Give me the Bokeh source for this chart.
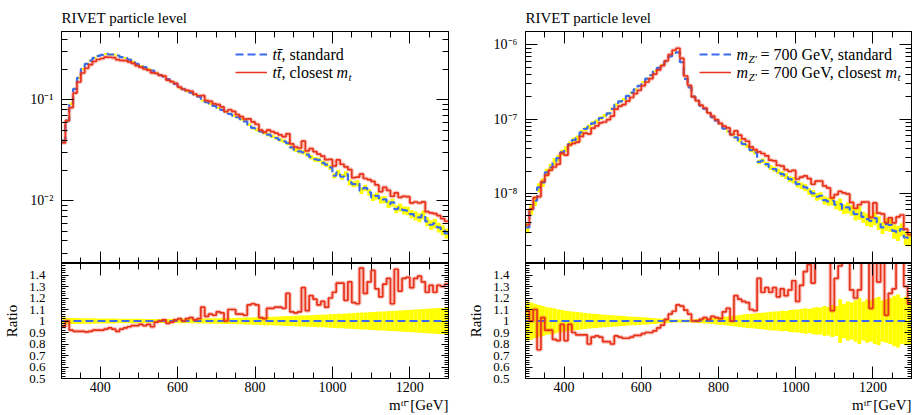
import numpy as np
from bokeh.plotting import figure
from bokeh.layouts import column, row
from bokeh.models import (Range1d, LinearAxis, LogAxis, FixedTicker, CustomJSTickFormatter,
                          Label, Legend, LegendItem, Title)
from bokeh.embed import file_html
from bokeh.resources import INLINE

# ---------------- data ----------------
bin_edges = np.arange(300, 1301, 10)   # m_tt bins [GeV]

# left panel: t tbar, standard prediction (per bin)
tt_standard = [
    0.0395, 0.0623, 0.0913, 0.1286, 0.1655, 0.2032, 0.2278, 0.2459, 0.2613, 0.2736,
    0.2799, 0.2864, 0.2821, 0.2821, 0.2757, 0.2653, 0.2613, 0.2515, 0.2403, 0.2278,
    0.2176, 0.2111, 0.2032, 0.1956, 0.1854, 0.1759, 0.1706, 0.1605, 0.1533, 0.1442,
    0.1316, 0.1276, 0.1219, 0.1183, 0.1130, 0.1079, 0.0985, 0.0948, 0.0913, 0.0872,
    0.0833, 0.0796, 0.0766, 0.0726, 0.0699, 0.0673, 0.0643, 0.0614, 0.0569, 0.0527,
    0.0503, 0.0488, 0.0470, 0.0453, 0.0436, 0.0419, 0.0401, 0.0389, 0.0372, 0.0339,
    0.0319, 0.0309, 0.0302, 0.0287, 0.0270, 0.0258, 0.0254, 0.0237, 0.0228, 0.0214,
    0.0177, 0.0191, 0.0173, 0.0184, 0.0152, 0.0146, 0.0149, 0.0126, 0.0134, 0.0121,
    0.0108, 0.0112, 0.0102, 0.0103, 0.00927, 0.00963, 0.00827, 0.00859, 0.00808, 0.00796,
    0.00737, 0.00709, 0.00683, 0.00726, 0.00623, 0.00578, 0.00596, 0.00544, 0.00512, 0.00474]
# ratio closest-m_t / standard
tt_ratio = [
    0.95, 1.00, 0.92, 0.91, 0.91, 0.91, 0.905, 0.91, 0.92, 0.92,
    0.92, 0.93, 0.94, 0.93, 0.91, 0.93, 0.94, 0.95, 0.96, 0.96,
    0.97, 0.96, 0.97, 0.95, 0.99, 1.00, 1.01, 0.98, 0.99, 1.01,
    1.02, 1.00, 1.02, 1.03, 1.01, 1.02, 1.12, 1.04, 1.06, 1.05,
    1.08, 1.07, 1.00, 1.10, 1.10, 1.06, 1.06, 1.05, 1.14, 1.15,
    1.14, 1.03, 1.02, 1.11, 1.11, 1.12, 1.12, 1.11, 1.24, 1.08,
    1.07, 1.08, 1.29, 1.09, 1.22, 1.19, 1.14, 1.17, 1.12, 1.20,
    1.25, 1.33, 1.33, 1.18, 1.34, 1.16, 1.15, 1.46, 1.24, 1.34,
    1.44, 1.28, 1.21, 1.32, 1.37, 1.15, 1.45, 1.26, 1.37, 1.38,
    1.29, 1.37, 1.39, 1.34, 1.25, 1.31, 1.25, 1.31, 1.30, 1.32]
# relative uncertainty of the standard prediction
tt_relerr = [
    0.030, 0.028, 0.027, 0.026, 0.025, 0.024, 0.024, 0.023, 0.023, 0.022,
    0.022, 0.021, 0.021, 0.021, 0.020, 0.020, 0.020, 0.019, 0.019, 0.019,
    0.019, 0.018, 0.018, 0.018, 0.018, 0.018, 0.018, 0.018, 0.019, 0.018,
    0.019, 0.019, 0.020, 0.020, 0.020, 0.021, 0.022, 0.022, 0.023, 0.023,
    0.024, 0.025, 0.025, 0.026, 0.027, 0.028, 0.029, 0.030, 0.031, 0.032,
    0.033, 0.034, 0.036, 0.036, 0.037, 0.039, 0.040, 0.041, 0.043, 0.044,
    0.045, 0.047, 0.048, 0.049, 0.051, 0.053, 0.054, 0.055, 0.057, 0.059,
    0.060, 0.062, 0.064, 0.066, 0.067, 0.069, 0.071, 0.073, 0.074, 0.076,
    0.078, 0.080, 0.082, 0.083, 0.086, 0.088, 0.090, 0.091, 0.094, 0.096,
    0.098, 0.100, 0.102, 0.104, 0.106, 0.108, 0.110, 0.112, 0.114, 0.116]

# right panel: Z' (700 GeV), standard prediction
zp_standard = [
    3.48e-9, 6.15e-9, 7.96e-9, 1.203e-8, 1.405e-8, 1.917e-8, 2.240e-8, 2.699e-8, 2.993e-8, 3.569e-8,
    3.958e-8, 4.624e-8, 5.236e-8, 5.572e-8, 6.642e-8, 7.366e-8, 7.920e-8, 8.785e-8, 9.349e-8, 1.036e-7,
    1.115e-7, 1.198e-7, 1.371e-7, 1.568e-7, 1.737e-7, 1.847e-7, 2.050e-7, 2.273e-7, 2.521e-7, 2.797e-7,
    3.167e-7, 3.512e-7, 3.896e-7, 4.412e-7, 4.894e-7, 5.427e-7, 6.020e-7, 7.000e-7, 7.800e-7, 7.900e-7,
    5.836e-7, 3.476e-7, 2.683e-7, 2.007e-7, 1.773e-7, 1.520e-7, 1.371e-7, 1.198e-7, 1.058e-7, 9.545e-8,
    8.605e-8, 7.443e-8, 6.852e-8, 6.181e-8, 5.689e-8, 5.129e-8, 4.624e-8, 4.345e-8, 3.837e-8, 3.569e-8,
    2.650e-8, 2.755e-8, 2.484e-8, 2.240e-8, 2.127e-8, 1.978e-8, 1.821e-8, 1.711e-8, 1.559e-8, 1.511e-8,
    1.335e-8, 1.268e-8, 1.203e-8, 1.063e-8, 9.99e-9, 9.015e-9, 9.300e-9, 8.129e-9, 7.799e-9, 7.962e-9,
    7.032e-9, 7.179e-9, 6.145e-9, 6.472e-9, 5.957e-9, 5.261e-9, 5.540e-9, 4.842e-9, 4.504e-9, 4.277e-9,
    4.647e-9, 4.061e-9, 3.477e-9, 3.856e-9, 3.777e-9, 3.135e-9, 2.977e-9, 3.301e-9, 2.548e-9, 2.419e-9]
zp_ratio = [
    1.09, 1.00, 1.10, 0.75, 1.03, 0.92, 0.92, 0.84, 0.83, 0.97,
    0.83, 0.97, 0.90, 0.88, 0.88, 0.88, 0.80, 0.86, 0.87, 0.86,
    0.82, 0.82, 0.80, 0.87, 0.86, 0.85, 0.85, 0.86, 0.875, 0.875,
    0.89, 0.90, 0.90, 0.915, 0.94, 0.965, 1.015, 1.06, 1.085, 1.14,
    1.13, 1.095, 1.06, 1.00, 1.00, 1.015, 1.03, 1.015, 1.04, 1.03,
    1.02, 1.08, 1.11, 1.00, 1.22, 1.19, 1.17, 1.16, 1.10, 1.09,
    1.37, 1.25, 1.29, 1.25, 1.29, 1.21, 1.28, 1.22, 1.27, 1.35,
    1.17, 1.31, 1.43, 1.49, 1.33, 1.62, 1.58, 1.55, 1.52, 1.09,
    1.37, 1.48, 1.65, 1.52, 1.27, 1.20, 1.27, 1.58, 1.70, 1.11,
    1.60, 1.34, 1.52, 1.05, 1.24, 1.28, 1.62, 1.55, 1.30, 1.15]
zp_relerr = [
    0.170, 0.160, 0.150, 0.140, 0.130, 0.120, 0.115, 0.110, 0.100, 0.095,
    0.090, 0.085, 0.080, 0.078, 0.074, 0.070, 0.066, 0.063, 0.060, 0.057,
    0.055, 0.052, 0.050, 0.047, 0.045, 0.043, 0.040, 0.038, 0.036, 0.034,
    0.032, 0.030, 0.027, 0.025, 0.022, 0.020, 0.018, 0.015, 0.013, 0.012,
    0.012, 0.013, 0.014, 0.015, 0.017, 0.019, 0.021, 0.023, 0.026, 0.030,
    0.034, 0.037, 0.040, 0.044, 0.048, 0.052, 0.056, 0.060, 0.064, 0.066,
    0.070, 0.072, 0.076, 0.080, 0.082, 0.085, 0.090, 0.088, 0.095, 0.098,
    0.100, 0.105, 0.110, 0.104, 0.115, 0.120, 0.118, 0.130, 0.125, 0.140,
    0.130, 0.190, 0.150, 0.170, 0.160, 0.180, 0.200, 0.170, 0.190, 0.180,
    0.200, 0.210, 0.180, 0.190, 0.200, 0.220, 0.230, 0.200, 0.210, 0.200]

x_major = [400, 600, 800, 1000, 1200]
x_minor = [v for v in range(350, 1300, 50) if v not in x_major]
tt_y_major = [1e-2, 1e-1]
tt_y_labels = {1e-2: "10\u207b\u00b2", 1e-1: "10\u207b\u00b9"}
zp_y_major = [1e-8, 1e-7, 1e-6]
zp_y_labels = {1e-8: "10\u207b\u2078", 1e-7: "10\u207b\u2077", 1e-6: "10\u207b\u2076"}
r_major = [0.5, 0.6, 0.7, 0.8, 0.9, 1.0, 1.1, 1.2, 1.3, 1.4]
r_labels = {0.5: "0.5", 0.6: "0.6", 0.7: "0.7", 0.8: "0.8", 0.9: "0.9", 1.0: "1",
            1.1: "1.1", 1.2: "1.2", 1.3: "1.3", 1.4: "1.4"}
r_minor = [round(0.5 + 0.02 * i, 2) for i in range(51)]
x_title = "m\u1d57\u1d57\u0304 [GeV]"
panel_title = "RIVET particle level"

FONT = "Liberation Serif"
BLUE = "#3a6cf0"
RED = "#e8341c"
YELLOW = "#ffff00"


def log_minors(exps, lo, hi):
    return [m * 10.0 ** e for e in exps for m in range(2, 10) if lo <= m * 10.0 ** e <= hi]


def make_axis(cls, majors, minors, major_len, minor_len, overrides=None, size="14px", standoff=0):
    ax = cls(ticker=FixedTicker(ticks=majors, minor_ticks=minors))
    ax.major_tick_in = major_len
    ax.major_tick_out = 0
    ax.minor_tick_in = minor_len
    ax.minor_tick_out = 0
    ax.axis_line_color = "black"
    ax.major_tick_line_color = "black"
    ax.minor_tick_line_color = "black"
    if overrides is None:
        ax.formatter = CustomJSTickFormatter(code="return ''")
        ax.major_label_text_font_size = "0px"
        ax.major_label_standoff = 0
    else:
        ax.major_label_overrides = overrides
        ax.major_label_text_font = FONT
        ax.major_label_text_font_size = size
        ax.major_label_text_color = "black"
        ax.major_label_standoff = standoff
    return ax


def txt(p, x, y, text, size=16, style="normal", align="left"):
    p.add_layout(Label(x=x, y=y, x_units="screen", y_units="screen", text=text,
                       text_font=FONT, text_font_size=f"{size}px", text_font_style=style,
                       text_align=align, text_baseline="middle", text_color="black"))


def main_panel(std, ratio, err, ylo, yhi, ymaj, ymin, ylab, bl, br, legend_rows):
    std = np.array(std)
    closest = std * np.array(ratio)
    err = np.array(err)
    p = figure(width=456, height=263, x_range=Range1d(300, 1300), y_range=Range1d(ylo, yhi),
               y_axis_type="log", x_axis_location=None, y_axis_location=None,
               output_backend="svg", toolbar_location=None,
               min_border_left=bl, min_border_right=br, min_border_top=31, min_border_bottom=0)
    p.grid.visible = False
    p.outline_line_color = "black"
    p.background_fill_color = "white"
    p.border_fill_color = "white"
    p.title.text = panel_title
    p.title.align = "left"
    p.title.text_font = FONT
    p.title.text_font_size = "15px"
    p.title.text_font_style = "normal"
    p.title.text_color = "black"
    p.title.standoff = 11
    p.title.offset = 0
    p.add_layout(make_axis(LogAxis, ymaj, ymin, 12, 6, ylab, "14px", 8), "left")
    p.add_layout(make_axis(LogAxis, ymaj, ymin, 12, 6), "right")
    p.add_layout(make_axis(LinearAxis, x_major, x_minor, 12, 6), "above")
    p.add_layout(make_axis(LinearAxis, x_major, x_minor, 12, 6), "below")

    p.quad(left=bin_edges[:-1], right=bin_edges[1:], bottom=std * (1 - err), top=std * (1 + err),
           fill_color=YELLOW, line_color=None)
    blue = p.step(bin_edges, np.append(std, std[-1]), mode="after", line_color=BLUE,
                  line_width=2.2, line_dash="8 4")
    p.step(bin_edges, np.append(closest, closest[-1]), mode="after", line_color=RED,
           line_width=4, line_alpha=0.3)
    red = p.step(bin_edges, np.append(closest, closest[-1]), mode="after", line_color=RED,
                 line_width=1.7)

    leg = Legend(items=[LegendItem(label=" ", renderers=[blue]), LegendItem(label=" ", renderers=[red])],
                 location=(174, 182), orientation="vertical", glyph_width=32, glyph_height=18,
                 label_height=18, label_width=0, label_standoff=0, padding=0, margin=0, spacing=0,
                 border_line_alpha=0, background_fill_alpha=0, label_text_font_size="10px")
    p.add_layout(leg)
    for parts, y in zip(legend_rows, (209, 191)):
        for (x, dy, text, size, style) in parts:
            txt(p, x, y + dy, text, size, style)
    return p


def ratio_panel(ratio, err, bl, br):
    err = np.array(err)
    ones = np.ones(len(err))
    p = figure(width=456, height=152, x_range=Range1d(300, 1300), y_range=Range1d(0.5, 1.5),
               x_axis_location=None, y_axis_location=None,
               output_backend="svg", toolbar_location=None,
               min_border_left=bl, min_border_right=br, min_border_top=0, min_border_bottom=37)
    p.grid.visible = False
    p.outline_line_color = "black"
    left = make_axis(LinearAxis, r_major, r_minor, 7, 4, r_labels, "13px", 16)
    left.axis_label = "Ratio"
    left.axis_label_text_font = FONT
    left.axis_label_text_font_style = "normal"
    left.axis_label_text_font_size = "15px"
    left.axis_label_text_color = "black"
    left.axis_label_standoff = 6
    p.add_layout(left, "left")
    p.add_layout(make_axis(LinearAxis, r_major, r_minor, 7, 4), "right")
    p.add_layout(make_axis(LinearAxis, x_major, x_minor, 12, 6), "above")
    p.add_layout(make_axis(LinearAxis, x_major, x_minor, 12, 6,
                           {v: str(v) for v in x_major}, "14px", 3), "below")
    p.add_layout(Title(text=x_title, align="right", text_font=FONT, text_font_size="15px",
                       text_font_style="normal", text_color="black", standoff=0, offset=0), "below")

    p.quad(left=bin_edges[:-1], right=bin_edges[1:], bottom=ones - err, top=ones + err,
           fill_color=YELLOW, line_color=None)
    p.step(bin_edges, np.append(ones, 1.0), mode="after", line_color=BLUE, line_width=2.2,
           line_dash="8 4")
    r = np.array(ratio)
    p.step(bin_edges, np.append(r, r[-1]), mode="after", line_color=RED, line_width=4, line_alpha=0.3)
    p.step(bin_edges, np.append(r, r[-1]), mode="after", line_color=RED, line_width=1.7)
    return p


tt_legend = [
    [(211, 0, "tt\u0304", 16, "italic"), (220, 0, ", standard", 16, "normal")],
    [(211, 0, "tt\u0304", 16, "italic"), (220, 0, ", closest ", 16, "normal"),
     (275, 0, "m", 16, "italic"), (287, -4, "t", 11, "italic")],
]
zp_legend = [
    [(211, 0, "m", 16, "italic"), (223, -4, "Z\u2032", 11, "italic"),
     (235, 0, " = 700 GeV, standard", 16, "normal")],
    [(211, 0, "m", 16, "italic"), (223, -4, "Z\u2032", 11, "italic"),
     (235, 0, " = 700 GeV, closest ", 16, "normal"),
     (360, 0, "m", 16, "italic"), (372, -4, "t", 11, "italic")],
]

tt_lo, tt_hi = 0.002385, 0.4772
zp_lo, zp_hi = 1.138e-9, 1.513e-6

m1 = main_panel(tt_standard, tt_ratio, tt_relerr, tt_lo, tt_hi, tt_y_major,
                log_minors([-3, -2, -1], tt_lo, tt_hi), tt_y_labels, 61, 8, tt_legend)
m2 = main_panel(zp_standard, zp_ratio, zp_relerr, zp_lo, zp_hi, zp_y_major,
                log_minors([-9, -8, -7, -6], zp_lo, zp_hi), zp_y_labels, 69, 1, zp_legend)
r1 = ratio_panel(tt_ratio, tt_relerr, 61, 8)
r2 = ratio_panel(zp_ratio, zp_relerr, 69, 1)

layout = column(row(m1, m2), row(r1, r2))
open("out.html", "w").write(file_html(layout, INLINE))
